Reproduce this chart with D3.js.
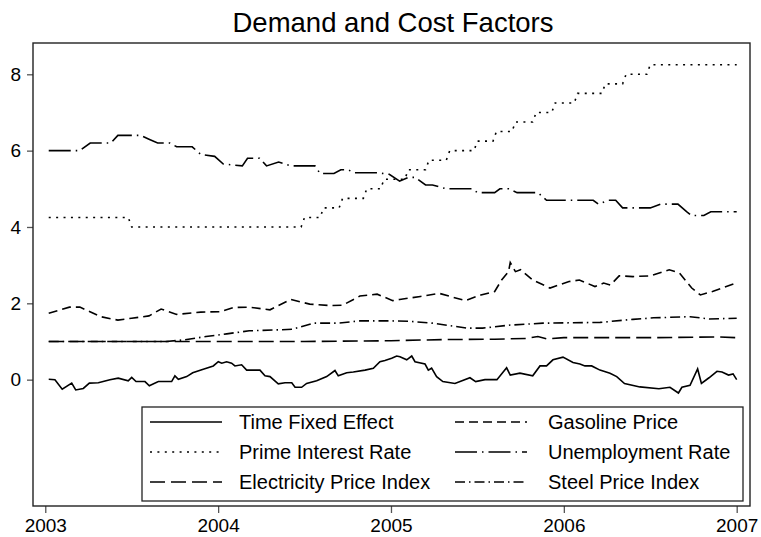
<!DOCTYPE html>
<html><head><meta charset="utf-8">
<script src="https://cdn.jsdelivr.net/npm/d3@7"></script>
<style>body{margin:0;background:#fff}svg{display:block;font-family:"Liberation Sans",Arial,sans-serif}</style>
</head><body><div id="chart"></div>
<script>
const title = "Demand and Cost Factors";
const xTicks = [2003, 2004, 2005, 2006, 2007];
const yTicks = [0, 2, 4, 6, 8];
const seriesNames = ["Time Fixed Effect","Gasoline Price","Prime Interest Rate","Unemployment Rate","Electricity Price Index","Steel Price Index"];

const timeFixedEffect = [[2003.02,0.01],[2003.056,0.0],[2003.098,-0.25],[2003.153,-0.09],[2003.176,-0.27],[2003.22,-0.23],[2003.255,-0.09],[2003.307,-0.08],[2003.374,0.0],[2003.422,0.04],[2003.48,-0.03],[2003.5,0.06],[2003.525,-0.05],[2003.577,-0.05],[2003.602,-0.16],[2003.654,-0.05],[2003.731,-0.05],[2003.75,0.1],[2003.77,0.01],[2003.818,0.08],[2003.853,0.18],[2003.914,0.27],[2003.972,0.36],[2004.001,0.47],[2004.021,0.43],[2004.049,0.47],[2004.078,0.43],[2004.097,0.36],[2004.136,0.39],[2004.165,0.25],[2004.242,0.25],[2004.271,0.1],[2004.3,0.08],[2004.348,-0.11],[2004.387,-0.08],[2004.426,-0.08],[2004.445,-0.2],[2004.483,-0.2],[2004.512,-0.1],[2004.57,-0.03],[2004.628,0.08],[2004.676,0.24],[2004.695,0.1],[2004.744,0.18],[2004.782,0.2],[2004.85,0.25],[2004.898,0.3],[2004.936,0.47],[2004.965,0.5],[2005.004,0.56],[2005.033,0.62],[2005.052,0.6],[2005.091,0.52],[2005.12,0.62],[2005.139,0.47],[2005.197,0.41],[2005.216,0.25],[2005.235,0.3],[2005.264,0.08],[2005.3,-0.05],[2005.37,-0.1],[2005.457,0.05],[2005.49,-0.05],[2005.544,0.0],[2005.613,0.0],[2005.669,0.31],[2005.69,0.12],[2005.746,0.17],[2005.82,0.1],[2005.862,0.36],[2005.9,0.36],[2005.937,0.52],[2005.995,0.59],[2006.053,0.45],[2006.093,0.41],[2006.122,0.36],[2006.161,0.36],[2006.209,0.25],[2006.267,0.17],[2006.306,0.08],[2006.351,-0.1],[2006.44,-0.19],[2006.55,-0.24],[2006.614,-0.2],[2006.663,-0.35],[2006.683,-0.2],[2006.73,-0.15],[2006.774,0.28],[2006.796,-0.1],[2006.84,0.05],[2006.886,0.22],[2006.915,0.2],[2006.953,0.12],[2006.979,0.15],[2007.0,0.0]];

const gasolinePrice = [[2003.02,1.74],[2003.14,1.9],[2003.2,1.9],[2003.32,1.65],[2003.42,1.56],[2003.5,1.61],[2003.6,1.67],[2003.67,1.85],[2003.76,1.71],[2003.9,1.77],[2004.01,1.78],[2004.09,1.89],[2004.18,1.9],[2004.3,1.83],[2004.42,2.1],[2004.53,1.98],[2004.65,1.94],[2004.72,1.95],[2004.82,2.19],[2004.92,2.24],[2005.01,2.07],[2005.05,2.1],[2005.17,2.18],[2005.28,2.26],[2005.43,2.07],[2005.52,2.22],[2005.6,2.31],[2005.64,2.61],[2005.68,2.83],[2005.69,3.07],[2005.72,2.83],[2005.75,2.88],[2005.82,2.61],[2005.92,2.4],[2006.03,2.57],[2006.09,2.61],[2006.18,2.44],[2006.23,2.53],[2006.27,2.48],[2006.32,2.72],[2006.4,2.7],[2006.5,2.72],[2006.61,2.88],[2006.67,2.79],[2006.74,2.4],[2006.79,2.22],[2006.86,2.31],[2007.0,2.54]];

const primeRate = [[2003.02,4.25],[2003.48,4.25],[2003.5,4.0],[2004.48,4.0],[2004.5,4.25],[2004.59,4.25],[2004.61,4.5],[2004.7,4.5],[2004.72,4.75],[2004.84,4.75],[2004.86,5.0],[2004.94,5.0],[2004.96,5.25],[2005.08,5.25],[2005.1,5.5],[2005.2,5.5],[2005.22,5.75],[2005.32,5.75],[2005.34,6.0],[2005.48,6.0],[2005.5,6.25],[2005.59,6.25],[2005.61,6.5],[2005.7,6.5],[2005.72,6.75],[2005.82,6.75],[2005.84,7.0],[2005.93,7.0],[2005.95,7.25],[2006.06,7.25],[2006.08,7.5],[2006.22,7.5],[2006.24,7.75],[2006.34,7.75],[2006.36,8.0],[2006.48,8.0],[2006.5,8.25],[2007.0,8.25]];

const unemploymentRate = [[2003.02,6.0],[2003.2,6.0],[2003.26,6.2],[2003.38,6.2],[2003.42,6.4],[2003.55,6.4],[2003.6,6.3],[2003.65,6.2],[2003.72,6.2],[2003.76,6.1],[2003.85,6.1],[2003.9,5.9],[2003.98,5.85],[2004.03,5.65],[2004.14,5.6],[2004.17,5.8],[2004.24,5.8],[2004.28,5.6],[2004.35,5.7],[2004.42,5.6],[2004.56,5.6],[2004.59,5.4],[2004.67,5.4],[2004.71,5.5],[2004.75,5.5],[2004.79,5.42],[2004.92,5.42],[2004.99,5.38],[2005.05,5.2],[2005.1,5.3],[2005.14,5.3],[2005.2,5.1],[2005.24,5.1],[2005.32,5.0],[2005.47,5.0],[2005.5,4.9],[2005.6,4.9],[2005.63,5.0],[2005.68,5.0],[2005.73,4.9],[2005.85,4.9],[2005.9,4.7],[2006.17,4.7],[2006.2,4.6],[2006.26,4.7],[2006.3,4.7],[2006.34,4.5],[2006.5,4.5],[2006.56,4.6],[2006.66,4.6],[2006.71,4.4],[2006.74,4.3],[2006.81,4.3],[2006.85,4.4],[2007.0,4.4]];

const electricityIndex = [[2003.02,1.0],[2004.0,1.0],[2004.5,1.0],[2005.0,1.02],[2005.3,1.05],[2005.6,1.06],[2005.78,1.08],[2005.85,1.13],[2005.9,1.07],[2006.0,1.1],[2006.5,1.1],[2006.9,1.12],[2007.0,1.1]];

const steelIndex = [[2003.02,1.0],[2003.7,1.0],[2003.8,1.04],[2003.93,1.13],[2004.05,1.2],[2004.18,1.28],[2004.32,1.3],[2004.43,1.32],[2004.55,1.48],[2004.69,1.48],[2004.82,1.54],[2005.0,1.54],[2005.1,1.53],[2005.24,1.48],[2005.44,1.35],[2005.53,1.35],[2005.69,1.43],[2005.88,1.48],[2006.21,1.5],[2006.4,1.58],[2006.52,1.62],[2006.73,1.65],[2006.84,1.59],[2007.0,1.61]];

const W = 761, H = 537;
const plot = {left: 33, right: 750, top: 43, bottom: 506};
const x = d3.scaleLinear().domain([2002.929, 2007.077]).range([plot.left, plot.right]);
const y = d3.scaleLinear().domain([-3.31, 8.82]).range([plot.bottom, plot.top]);

const svg = d3.select("#chart").append("svg").attr("width", W).attr("height", H);
svg.append("rect").attr("width", W).attr("height", H).attr("fill", "#fff");

svg.append("text").attr("x", 393).attr("y", 32).attr("text-anchor", "middle")
  .attr("font-size", 27.5).attr("fill", "#000").text(title);

const xAxis = svg.append("g").attr("transform", `translate(0,${plot.bottom})`)
  .call(d3.axisBottom(x).tickValues(xTicks).tickFormat(d3.format("d")).tickSize(7).tickPadding(6));
const yAxis = svg.append("g").attr("transform", `translate(${plot.left},0)`)
  .call(d3.axisLeft(y).tickValues(yTicks).tickFormat(d3.format("d")).tickSize(6).tickPadding(6));
[xAxis, yAxis].forEach(g => {
  g.select(".domain").remove();
  g.selectAll("line").attr("stroke", "#555").attr("stroke-width", 1.3);
  g.selectAll("text").attr("font-size", 19).attr("fill", "#000").attr("font-family", '"Liberation Sans",Arial,sans-serif');
});

svg.append("rect").attr("x", plot.left).attr("y", plot.top)
  .attr("width", plot.right - plot.left).attr("height", plot.bottom - plot.top)
  .attr("fill", "none").attr("stroke", "#222").attr("stroke-width", 1.4);

const styles = [
  {data: timeFixedEffect, dash: null},
  {data: gasolinePrice, dash: "9,5"},
  {data: primeRate, dash: "2,5.4"},
  {data: unemploymentRate, dash: "22,5,1.5,5"},
  {data: electricityIndex, dash: "15,6"},
  {data: steelIndex, dash: "10,4,1.5,4"}
];
const line = d3.line().x(d => x(d[0])).y(d => y(d[1]));
styles.forEach(s => {
  svg.append("path").attr("d", line(s.data)).attr("fill", "none")
    .attr("stroke", "#000").attr("stroke-width", 1.6)
    .attr("stroke-dasharray", s.dash);
});

// legend
const lg = {x: 142, y: 407, w: 601, h: 94};
svg.append("rect").attr("x", lg.x).attr("y", lg.y).attr("width", lg.w).attr("height", lg.h)
  .attr("fill", "#fff").attr("stroke", "#222").attr("stroke-width", 1.3);
const colX = [150, 455];
const textGap = [89, 93];
const rowY = [422, 452, 482];
seriesNames.forEach((name, i) => {
  const c = i % 2, cx = colX[c], cy = rowY[Math.floor(i / 2)];
  svg.append("line").attr("x1", cx).attr("x2", cx + 72).attr("y1", cy).attr("y2", cy)
    .attr("stroke", "#000").attr("stroke-width", 1.6).attr("stroke-dasharray", styles[i].dash);
  svg.append("text").attr("x", cx + textGap[c]).attr("y", cy).attr("dy", "0.35em")
    .attr("font-size", 20).attr("fill", "#000").text(name);
});
</script></body></html>
